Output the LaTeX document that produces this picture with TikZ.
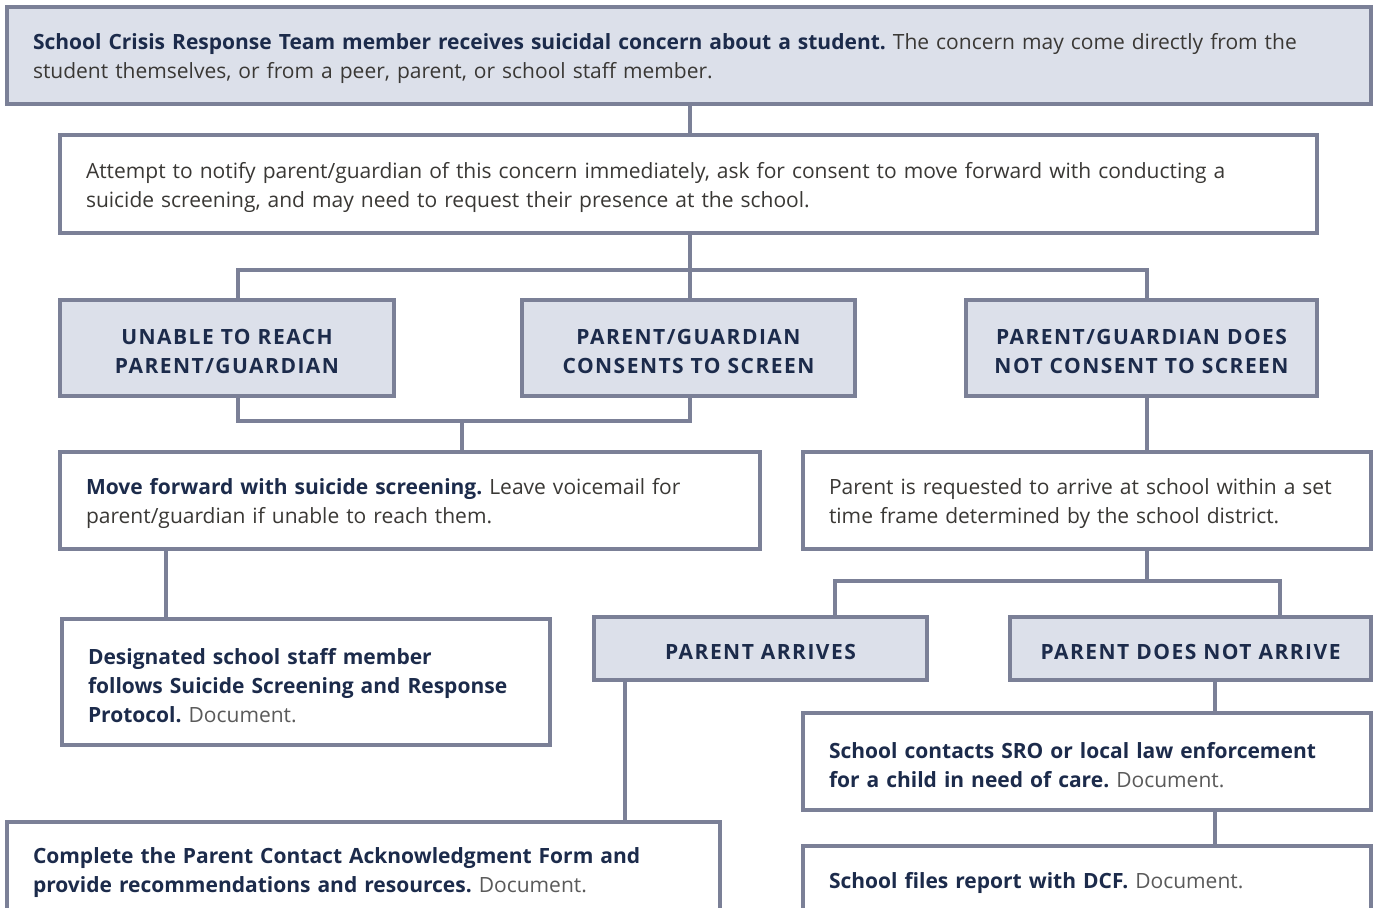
\documentclass[tikz,border=0pt]{standalone}
\usepackage{fontspec}
\setmainfont{Open Sans}
\newfontfamily\capsfont{Open Sans}[LetterSpace=7]
\definecolor{boxfill}{HTML}{DCE0EA}
\definecolor{boxedge}{HTML}{7B8097}
\definecolor{navy}{HTML}{1C2B4B}
\definecolor{bodygrey}{HTML}{3A3835}
\definecolor{docgrey}{HTML}{5A5A5A}
\newcommand{\chartfont}{\fontsize{15.75pt}{21.75pt}\selectfont\lineskiplimit=-20pt\relax\frenchspacing}
\newcommand{\lead}[1]{\textbf{\color{navy}#1}}
\newcommand{\docnote}{\textcolor{docgrey}{Document.}}

\begin{document}
\begin{tikzpicture}[x=0.75pt,y=-0.75pt,
  every node/.style={font=\chartfont},
  stepbox/.style={draw=boxedge,line width=2.3pt,fill=white,inner ysep=0pt,
    inner xsep=19.5pt,align=left,text=bodygrey,
    execute at begin node={\rule{0pt}{17pt}}},
  headbox/.style={stepbox,fill=boxfill,align=center,
    font=\chartfont\capsfont\bfseries,text=navy},
  link/.style={draw=boxedge,line width=2.3pt}]
  \useasboundingbox (0,0) rectangle (1374,907);
  \begin{scope}
   \clip (0,0) rectangle (1374,907);
   % top of the chart
   \node[stepbox,fill=boxfill,text width=984pt,minimum height=72.75pt] (concern) at (689,55.5)
     {\lead{School Crisis Response Team member receives suicidal concern about a student.} The concern may come directly from the\\student themselves, or from a peer, parent, or school staff member.};
   \node[stepbox,text width=903.75pt,minimum height=73.5pt] (notify) at (688.5,184)
     {Attempt to notify parent/guardian of this concern immediately, ask for consent to move forward with conducting a\\suicide screening, and may need to request their presence at the school.};
   % three outcomes
   \node[headbox,text width=211.5pt,minimum height=72pt] (unable) at (227,348) {UNABLE TO REACH\\PARENT/GUARDIAN};
   \node[headbox,text width=210.75pt,minimum height=72pt] (consent) at (688.5,348) {PARENT/GUARDIAN\\CONSENTS TO SCREEN};
   \node[headbox,text width=224.25pt,minimum height=72pt] (refuse) at (1141.5,348) {PARENT/GUARDIAN DOES\\NOT CONSENT TO SCREEN};
   % left branch
   \node[stepbox,text width=486pt,minimum height=72.75pt] (screen) at (410,500.5)
     {\lead{Move forward with suicide screening.} Leave voicemail for\\parent/guardian if unable to reach them.};
   \node[stepbox,text width=327pt,minimum height=94.5pt] (protocol) at (306,682)
     {\lead{Designated school staff member\\follows Suicide Screening and Response\\Protocol.} \docnote};
   % right branch
   \node[stepbox,text width=387pt,minimum height=72.75pt] (request) at (1087,500.5)
     {Parent is requested to arrive at school within a set\\time frame determined by the school district.};
   \node[headbox,text width=210.75pt,minimum height=47.25pt] (arrives) at (760.5,648.5) {PARENT ARRIVES};
   \node[headbox,text width=231.75pt,minimum height=47.25pt] (noshow) at (1190.5,648.5) {PARENT DOES NOT ARRIVE};
   \node[stepbox,text width=495.75pt,minimum height=70.5pt] (ackform) at (363.5,869)
     {\lead{Complete the Parent Contact Acknowledgment Form and\\provide recommendations and resources.} \docnote};
   \node[stepbox,text width=387pt,minimum height=72.75pt] (sro) at (1087,761.5)
     {\lead{School contacts SRO or local law enforcement\\for a child in need of care.} \docnote};
   \node[stepbox,text width=387pt,minimum height=51pt] (dcf) at (1087,880)
     {\lead{School files report with DCF.} \docnote};
  \end{scope}
  % connectors
  \coordinate (fork1) at (690,270);
  \coordinate (join1) at (462,421);
  \coordinate (fork2) at (1147,581);
  \path[link] (concern.south -| 690,0) -- (notify.north -| 690,0);
  \path[link] (notify.south -| fork1) -- (fork1);
  \path[link] (unable.north -| 238,0) |- (fork1) -| (refuse.north -| 1147,0);
  \path[link] (fork1) -- (consent.north -| fork1);
  \path[link] (unable.south -| 238,0) |- (join1) -| (consent.south -| 690,0);
  \path[link] (join1) -- (screen.north -| join1);
  \path[link] (refuse.south -| 1147,0) -- (request.north -| 1147,0);
  \path[link] (request.south -| fork2) -- (fork2);
  \path[link] (arrives.north -| 835,0) |- (fork2) -| (noshow.north -| 1280,0);
  \path[link] (screen.south -| 166,0) -- (protocol.north -| 166,0);
  \path[link] (arrives.south -| 625,0) -- (ackform.north -| 625,0);
  \path[link] (noshow.south -| 1215,0) -- (sro.north -| 1215,0);
  \path[link] (sro.south -| 1215,0) -- (dcf.north -| 1215,0);
\end{tikzpicture}
\end{document}
